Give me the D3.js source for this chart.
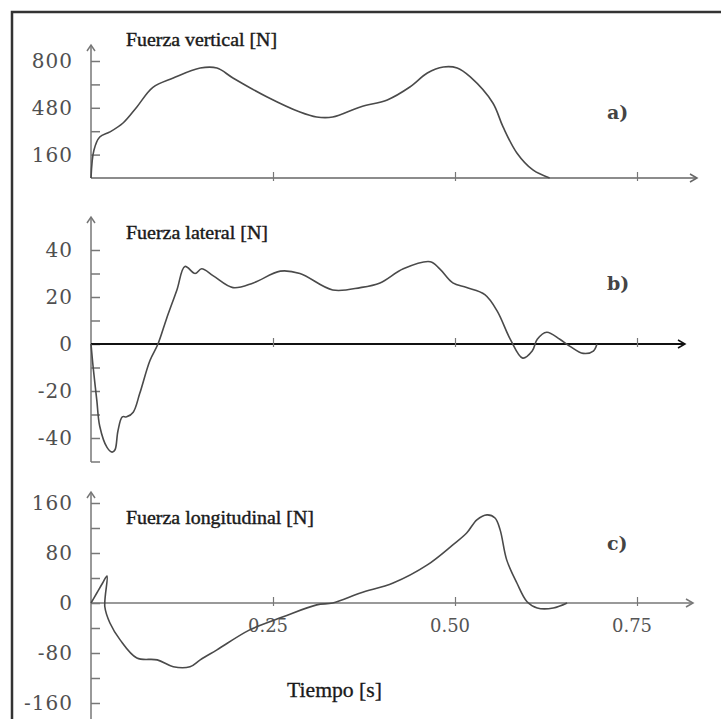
<!DOCTYPE html>
<html>
<head>
<meta charset="utf-8">
<script src="https://cdn.jsdelivr.net/npm/d3@7/dist/d3.min.js"></script>
<style>
  body{margin:0;background:#fff;}
  svg{display:block;}
</style>
</head>
<body>
<div id="chart"></div>
<script>
// tiempo [s] y fuerza [N]
const timeVert = [0, 0.004, 0.012, 0.026, 0.044, 0.063, 0.085, 0.113, 0.150, 0.173, 0.195, 0.242, 0.287, 0.310, 0.332, 0.370, 0.407, 0.438, 0.462, 0.484, 0.503, 0.521, 0.552, 0.566, 0.585, 0.607, 0.630];
const forceVert = [0, 190, 280, 315, 376, 486, 620, 684, 752, 752, 684, 554, 451, 417, 417, 486, 534, 622, 718, 759, 752, 691, 513, 349, 171, 55, 0];

const timeLat = [0, 0.003, 0.008, 0.012, 0.022, 0.029, 0.033, 0.037, 0.043, 0.049, 0.058, 0.067, 0.081, 0.092, 0.104, 0.118, 0.129, 0.143, 0.152, 0.168, 0.195, 0.223, 0.260, 0.287, 0.332, 0.370, 0.397, 0.429, 0.466, 0.479, 0.497, 0.516, 0.541, 0.558, 0.576, 0.593, 0.606, 0.613, 0.626, 0.644, 0.658, 0.676, 0.690, 0.695];
const forceLat = [0, -10, -24, -35, -44, -46, -45, -37, -31, -31, -29, -21, -7, 0, 11, 23, 33, 30, 32, 29, 24, 26, 31, 30, 23, 24, 26, 32, 35, 32, 26, 24, 21, 14, 2, -6, -3, 2, 5, 2, -1, -4, -3, 0];

const timeLong = [0, 0.008, 0.016, 0.022, 0.019, 0.026, 0.040, 0.063, 0.091, 0.113, 0.136, 0.150, 0.173, 0.218, 0.264, 0.310, 0.332, 0.370, 0.415, 0.462, 0.497, 0.516, 0.530, 0.544, 0.555, 0.562, 0.571, 0.585, 0.599, 0.613, 0.635, 0.654];
const forceLong = [0, 16, 32, 43, -6, -32, -59, -88, -91, -102, -102, -91, -75, -43, -22, -3, 0, 16, 32, 61, 93, 112, 133, 141, 136, 117, 69, 32, 2, -8, -8, 0];

const timeTicks = [0.25, 0.50, 0.75];
const timeLabels = ["0.25", "0.50", "0.75"];
const vertTicks = [160, 320, 480, 640, 800];
const vertLabels = [160, 480, 800];
const latTicks = [-50, -40, -30, -20, -10, 0, 10, 20, 30, 40];
const latLabels = [-40, -20, 0, 20, 40];
const longTicks = [-160, -120, -80, -40, 0, 40, 80, 120, 160];
const longLabels = [-160, -80, 0, 80, 160];

const titles = ["Fuerza vertical [N]", "Fuerza lateral [N]", "Fuerza longitudinal [N]"];
const tags = ["a)", "b)", "c)"];

const W = 721, H = 719;
const svg = d3.select("#chart").append("svg").attr("width", W).attr("height", H);

const x = d3.scaleLinear().domain([0, 0.75]).range([91, 637]);

// panel layout
const panels = [
  {t: timeVert, v: forceVert, dom: [0, 800], rng: [178, 61], ticks: vertTicks, labels: vertLabels,
   top: 45, bottom: 178, arrowX: 697, axisCol: "#666", axisW: 1.5, titleY: 46, titleW: 151, tagY: 119, labX: false},
  {t: timeLat, v: forceLat, dom: [-50, 40], rng: [461.5, 250], ticks: latTicks, labels: latLabels,
   top: 217, bottom: 462, arrowX: 685, axisCol: "#111", axisW: 2, titleY: 239, titleW: 142, tagY: 290, labX: false},
  {t: timeLong, v: forceLong, dom: [-160, 160], rng: [703, 503], ticks: longTicks, labels: longLabels,
   top: 492, bottom: 719, arrowX: 693, axisCol: "#777", axisW: 1.5, titleY: 524, titleW: 188, tagY: 550, labX: true}
];

// marco
svg.append("path")
  .attr("d", "M12,719 L12,12 L721,12")
  .attr("fill", "none")
  .attr("stroke", "#333")
  .attr("stroke-width", 2.5);

panels.forEach((p, i) => {
  const y = d3.scaleLinear().domain(p.dom).range(p.rng);
  const g = svg.append("g");
  const y0 = p.dom[0] < 0 ? y(0) : p.rng[0];

  // eje y
  g.append("line")
    .attr("x1", x(0)).attr("x2", x(0))
    .attr("y1", p.top).attr("y2", p.bottom)
    .attr("stroke", "#777").attr("stroke-width", 1.5);
  g.append("path")
    .attr("d", `M${x(0) - 4},${p.top + 6} L${x(0)},${p.top} L${x(0) + 4},${p.top + 6}`)
    .attr("fill", "none").attr("stroke", "#777").attr("stroke-width", 1.5);

  const ya = g.append("g")
    .attr("transform", `translate(${x(0)},0)`)
    .call(d3.axisRight(y).tickValues(p.ticks).tickSize(9).tickFormat(""));
  ya.select(".domain").remove();
  ya.selectAll(".tick line").attr("stroke", "#777").attr("stroke-width", 1.5);

  g.selectAll("text.ylab")
    .data(p.labels)
    .enter()
    .append("text")
    .attr("class", "ylab")
    .attr("x", 73)
    .attr("y", d => y(d))
    .attr("dy", "0.35em")
    .attr("text-anchor", "end")
    .attr("font-family", "DejaVu Serif")
    .attr("font-size", 20)
    .attr("letter-spacing", 1)
    .attr("fill", "#505050")
    .text(d => d);

  // eje x
  g.append("line")
    .attr("x1", x(0)).attr("x2", p.arrowX)
    .attr("y1", y0).attr("y2", y0)
    .attr("stroke", p.axisCol).attr("stroke-width", p.axisW);
  g.append("path")
    .attr("d", `M${p.arrowX - 7},${y0 - 4} L${p.arrowX},${y0} L${p.arrowX - 7},${y0 + 4}`)
    .attr("fill", "none").attr("stroke", p.axisCol).attr("stroke-width", 1.5);

  const xa = g.append("g")
    .attr("transform", `translate(0,${y0})`)
    .call(d3.axisBottom(x).tickValues(timeTicks).tickSize(0).tickFormat(""));
  xa.select(".domain").remove();
  xa.selectAll(".tick line").attr("y1", -6).attr("y2", 3).attr("stroke", "#777").attr("stroke-width", 1.2);

  if (p.labX) {
    g.selectAll("text.xlab")
      .data(timeTicks)
      .enter()
      .append("text")
      .attr("class", "xlab")
      .attr("x", d => x(d) - 5)
      .attr("y", y0 + 29)
      .attr("text-anchor", "middle")
      .attr("font-family", "DejaVu Serif")
      .attr("font-size", 18)
      .attr("fill", "#555")
      .text((d, k) => timeLabels[k]);
  }

  // curva
  const line = d3.line()
    .x((d, k) => x(p.t[k]))
    .y(d => y(d))
    .curve(d3.curveCatmullRom.alpha(0.5));
  g.append("path")
    .datum(p.v)
    .attr("d", line)
    .attr("fill", "none")
    .attr("stroke", "#4a4a4a")
    .attr("stroke-width", 1.6);

  g.append("text")
    .attr("x", 126)
    .attr("y", p.titleY)
    .attr("font-family", "Liberation Serif")
    .attr("font-size", 18)
    .attr("textLength", p.titleW)
    .attr("lengthAdjust", "spacingAndGlyphs")
    .attr("fill", "#1a1a1a")
    .attr("stroke", "#1a1a1a")
    .attr("stroke-width", 0.4)
    .text(titles[i]);

  g.append("text")
    .attr("x", 607)
    .attr("y", p.tagY)
    .attr("font-family", "DejaVu Serif")
    .attr("font-weight", "bold")
    .attr("font-size", 19)
    .attr("fill", "#444")
    .text(tags[i]);
});

svg.append("text")
  .attr("x", 287)
  .attr("y", 697)
  .attr("font-family", "Liberation Serif")
  .attr("font-size", 20)
  .attr("textLength", 95)
  .attr("lengthAdjust", "spacingAndGlyphs")
  .attr("fill", "#1a1a1a")
  .attr("stroke", "#1a1a1a")
  .attr("stroke-width", 0.3)
  .text("Tiempo [s]");
</script>
</body>
</html>
